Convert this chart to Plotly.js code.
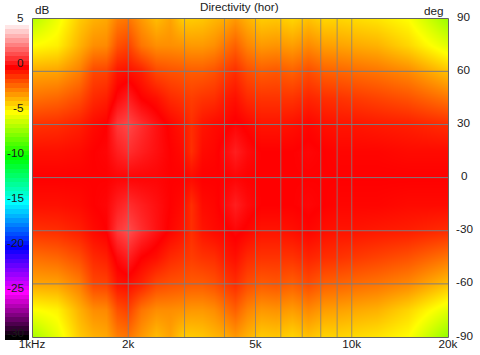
<!DOCTYPE html>
<html>
<head>
<meta charset="utf-8">
<script src="https://cdn.plot.ly/plotly-3.0.1.min.js"></script>
<style>html,body{margin:0;padding:0;background:#fff}#c{width:480px;height:355px}</style>
</head>
<body>
<div id="c"></div>
<script>
const freqs = [1000,1200,1400,1550,1700,1850,2000,2200,2450,2700,2950,3150,3400,3700,4000,4300,4700,5200,5800,6500,7300,8200,9200,10000,12000,15000,20000];
const angles = [90,75,60,45,30,15,0,-15,-30,-45,-60,-75,-90];
const a90  = [-6.5,-5.3,-4.0,-3.5,-3.3,-2.5,-2.3,-3.0,-3.7,-3.2,-4.0,-4.0,-3.9,-3.6,-3.4,-3.0,-3.5,-4.0,-3.9,-4.2,-3.8,-4.2,-4.2,-4.3,-4.5,-5.0,-7.0];
const a75  = [-5.0,-4.7,-3.5,-2.8,-2.7,-1.6,-1.3,-2.3,-2.8,-2.8,-2.9,-3.0,-3.0,-2.8,-2.3,-1.9,-2.6,-3.0,-2.9,-3.1,-2.7,-3.1,-3.2,-3.3,-3.5,-4.2,-5.6];
const a60  = [-3.3,-3.2,-2.5,-1.4,-1.3,-0.4,-0.3,-0.6,-1.4,-1.6,-1.7,-1.8,-1.8,-1.6,-1.2,-0.9,-1.5,-1.8,-1.7,-1.9,-1.5,-1.9,-2.0,-2.1,-2.3,-2.7,-3.8];
const a45  = [-2.2,-2.0,-1.5,-0.8,-0.6,0.2,0.6,0.0,-0.3,-0.8,-1.0,-1.2,-1.0,-0.9,-0.5,-0.3,-0.8,-1.0,-1.0,-1.0,-0.7,-0.9,-1.0,-1.1,-1.3,-1.6,-2.3];
const a30  = [-1.0,-0.9,-0.6,-0.2,0.0,1.1,1.4,0.9,0.35,-0.1,-0.4,-0.9,-0.4,-0.2,-0.1,0.1,-0.1,-0.4,-0.4,-0.3,-0.1,-0.3,-0.4,-0.4,-0.5,-0.6,-0.9];
const a15  = [-0.3,-0.3,-0.2,0.0,0.1,0.6,0.9,0.6,0.3,0.0,-0.2,-0.9,-0.2,-0.1,0.2,0.6,0.2,0.0,0.0,0.0,0.1,0.0,-0.1,-0.1,-0.1,-0.2,-0.2];
const a0   = [0.0,0.0,0.0,0.0,0.0,0.1,0.1,0.1,0.1,0.0,0.0,-0.2,0.0,0.0,0.0,0.1,0.0,0.0,0.0,0.0,0.0,0.0,0.0,0.0,0.0,0.0,0.0];
const am15 = [-0.3,-0.3,-0.2,0.0,0.1,0.6,0.9,0.6,0.3,0.0,-0.2,-0.9,-0.2,-0.1,0.2,0.6,0.2,0.0,0.0,0.0,0.1,0.0,-0.1,-0.1,-0.1,-0.2,-0.2];
const am30 = [-1.0,-0.9,-0.6,-0.2,0.0,1.1,1.5,0.9,0.35,-0.1,-0.4,-0.9,-0.4,-0.2,-0.1,0.1,-0.1,-0.4,-0.4,-0.3,-0.1,-0.3,-0.4,-0.4,-0.5,-0.6,-0.9];
const am45 = [-2.2,-2.0,-1.5,-0.8,-0.6,0.2,0.6,0.0,-0.3,-0.8,-1.0,-1.2,-1.0,-0.9,-0.5,-0.3,-0.8,-1.0,-1.0,-1.0,-0.7,-0.9,-1.0,-1.1,-1.3,-1.6,-2.3];
const am60 = [-3.3,-3.2,-2.5,-1.4,-1.3,-0.4,-0.3,-0.7,-1.4,-1.6,-1.7,-1.8,-1.8,-1.6,-1.2,-0.9,-1.5,-1.8,-1.7,-1.9,-1.5,-1.9,-2.0,-2.1,-2.3,-2.7,-3.8];
const am75 = [-5.1,-4.8,-3.5,-2.8,-2.7,-1.6,-1.3,-2.3,-2.8,-2.8,-2.9,-3.0,-3.0,-2.8,-2.3,-1.9,-2.6,-3.0,-2.9,-3.1,-2.7,-3.1,-3.2,-3.3,-3.5,-4.2,-5.6];
const am90 = [-6.8,-5.5,-4.0,-3.5,-3.3,-2.5,-2.3,-3.0,-3.7,-3.2,-4.0,-4.0,-3.9,-3.6,-3.4,-3.0,-3.5,-4.0,-3.9,-4.2,-3.8,-4.2,-4.2,-4.3,-4.5,-5.0,-7.2];
const legendDb = [5,4.5,4,3.5,3,2.5,2,1.5,1,0.5,0,-0.5,-1,-1.5,-2,-2.5,-3,-3.5,-4,-4.5,-5,-5.5,-6,-6.5,-7,-7.5,-8,-8.5,-9,-9.5,-10,-10.5,-11,-11.5,-12,-12.5,-13,-13.5,-14,-14.5,-15,-15.5,-16,-16.5,-17,-17.5,-18,-18.5,-19,-19.5,-20,-20.5,-21,-21.5,-22,-22.5,-23,-23.5,-24,-24.5,-25,-25.5,-26,-26.5,-27,-27.5,-28,-28.5,-29,-29.5,-30];
const gridFreqs = [2000,3000,4000,5000,6000,7000,8000,9000,10000];
const gridAngles = [60,30,0,-30,-60];
const freqTicks = [1000,2000,5000,10000,20000];
const freqLabels = ['1kHz','2k','5k','10k','20k'];
const angleTicks = [90,60,30,0,-30,-60,-90];
const dbTicks = [5,0,-5,-10,-15,-20,-25,-30];

const W = 480, H = 355;
const font = 'Liberation Sans, Arial, sans-serif';
const ink = '#1a1a1a';
const fs = 11.7;
const scale = [[0,'#000000'],[5/35,'#ff00ff'],[10/35,'#0000ff'],[15/35,'#00ffff'],[20/35,'#00ff00'],[25/35,'#ffff00'],[30/35,'#ff0000'],[1,'#ffffff']];

const main = {
  type:'heatmap', x:freqs, y:angles,
  z:[a90,a75,a60,a45,a30,a15,a0,am15,am30,am45,am60,am75,am90],
  zmin:-30, zmax:5, colorscale:scale, zsmooth:'best', showscale:false, hoverinfo:'skip'
};
const legend = {
  type:'heatmap', x:[0], y:legendDb, z:legendDb.map(v=>[v]),
  xaxis:'x2', yaxis:'y2', zmin:-30, zmax:5, colorscale:scale, showscale:false, hoverinfo:'skip'
};
const frame = '#646464';
const shapes = [];
gridFreqs.forEach(f=>shapes.push({type:'line',layer:'above',xref:'x',yref:'paper',x0:f,x1:f,y0:(H-337)/H,y1:(H-18)/H,line:{color:'rgba(128,128,128,0.78)',width:1}}));
gridAngles.forEach(a=>shapes.push({type:'line',layer:'above',xref:'paper',yref:'y',x0:32/W,x1:448/W,y0:a,y1:a,line:{color:'rgb(125,125,125)',width:1}}));
shapes.push({type:'rect',layer:'above',xref:'paper',yref:'paper',x0:32.5/W,x1:448.5/W,y0:(H-337.5)/H,y1:(H-18.5)/H,line:{color:frame,width:1},fillcolor:'rgba(0,0,0,0)'});

const note = (text,x,y,anchor)=>({text,xref:'paper',yref:'paper',x:x/W,y:1-y/H,xanchor:anchor,yanchor:'middle',showarrow:false,font:{family:font,size:fs,color:ink}});
const annotations = [
  note('Directivity (hor)',239,7,'center'),
  note('dB',33,10,'left'),
  note('deg',446,11,'right')
];
angleTicks.forEach(a=>annotations.push({text:String(a),xref:'paper',yref:'y',x:464/W,y:a,xanchor:'center',yanchor:'middle',yshift:2,showarrow:false,font:{family:font,size:fs,color:ink}}));
dbTicks.forEach(d=>annotations.push({text:String(d),xref:'paper',yref:'y2',x:26/W,y:d,xanchor:'right',yanchor:'middle',yshift:5,showarrow:false,font:{family:font,size:fs,color:ink}}));

const layout = {
  width:W, height:H, autosize:false,
  margin:{l:0,r:0,t:0,b:0}, paper_bgcolor:'#fff', plot_bgcolor:'#fff', showlegend:false,
  xaxis:{type:'log',domain:[32/W,448/W],range:[3,Math.log10(20000)],tickmode:'array',tickvals:freqTicks,ticktext:freqLabels,ticks:'',ticklabelstandoff:-2,
    showgrid:false,zeroline:false,showline:false,tickfont:{family:font,size:fs,color:ink},automargin:false},
  yaxis:{domain:[(H-337)/H,(H-18.2)/H],range:[-90,90],showticklabels:false,ticks:'',showgrid:false,zeroline:false,showline:false},
  xaxis2:{domain:[5/W,29/W],anchor:'y2',visible:false,fixedrange:true},
  yaxis2:{domain:[(H-340)/H,(H-20)/H],anchor:'x2',range:[-30.25,5.25],visible:false,fixedrange:true},
  shapes, annotations
};
Plotly.newPlot('c',[main,legend],layout,{displayModeBar:false,staticPlot:true});
</script>
</body>
</html>
